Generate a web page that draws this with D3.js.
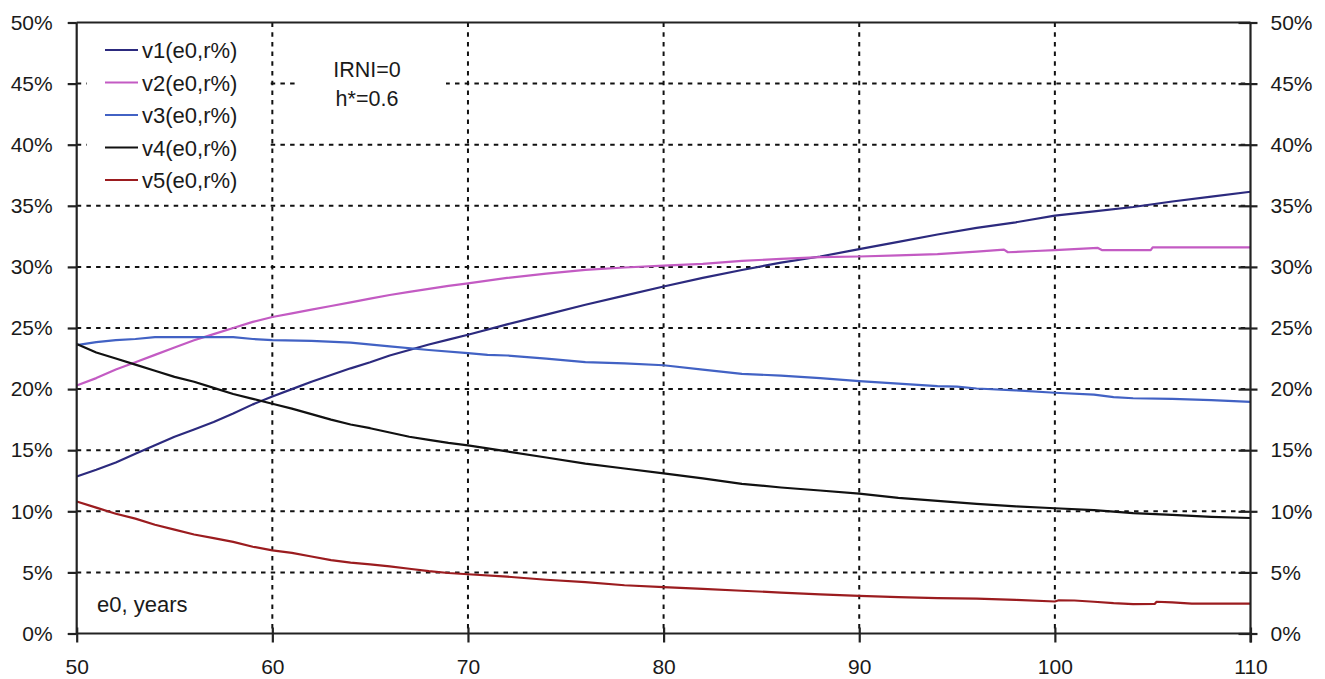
<!DOCTYPE html>
<html><head><meta charset="utf-8">
<script src="https://cdn.jsdelivr.net/npm/d3@7"></script>
<style>
body{margin:0;background:#fff;}
svg text{font-family:"Liberation Sans",Arial,sans-serif;fill:#1a1a1a;}
</style></head>
<body><svg id="c" width="1325" height="679"></svg>
<script>
const xTicks = [50,60,70,80,90,100,110];
const yTicks = [0,5,10,15,20,25,30,35,40,45,50];
const seriesNames = ["v1(e0,r%)","v2(e0,r%)","v3(e0,r%)","v4(e0,r%)","v5(e0,r%)"];
const seriesColors = ["#2c2a7e","#c35bc3","#4262c4","#111111","#9b1c1f"];
const annotation = ["IRNI=0","h*=0.6"];
const axisLabel = "e0, years";

const v1 = [[50,12.85],[51,13.4],[52,14.0],[53,14.7],[54,15.4],[55,16.1],[56,16.7],[57,17.3],[58,18.0],[59,18.75],[60,19.4],[61,20.0],[62,20.6],[63,21.15],[64,21.7],[65,22.2],[66,22.75],[67,23.2],[68,23.65],[69,24.05],[70,24.45],[72,25.3],[74,26.1],[76,26.9],[78,27.65],[80,28.4],[82,29.1],[84,29.75],[86,30.35],[88,30.85],[90,31.45],[92,32.05],[94,32.65],[96,33.2],[98,33.65],[100,34.2],[102,34.55],[104,34.9],[106,35.35],[108,35.75],[110,36.15]];
const v2 = [[50,20.3],[51,20.9],[52,21.6],[53,22.2],[54,22.8],[55,23.4],[56,24.0],[57,24.5],[58,25.0],[59,25.5],[60,25.9],[61,26.2],[62,26.5],[63,26.8],[64,27.1],[65,27.4],[66,27.7],[67,27.95],[68,28.2],[69,28.45],[70,28.65],[72,29.1],[74,29.45],[76,29.75],[78,29.95],[80,30.1],[82,30.25],[84,30.5],[86,30.65],[88,30.8],[90,30.85],[92,30.95],[94,31.05],[96,31.25],[97.4,31.42],[97.6,31.2],[99,31.3],[100,31.38],[102.2,31.55],[102.4,31.38],[104.9,31.38],[105.0,31.6],[110,31.6]];
const v3 = [[50,23.6],[51,23.85],[52,24.0],[53,24.1],[54,24.25],[56,24.25],[58,24.25],[59,24.1],[60,24.0],[62,23.95],[64,23.8],[66,23.5],[68,23.2],[70,22.95],[71,22.8],[72,22.75],[74,22.5],[76,22.2],[78,22.1],[80,21.95],[82,21.6],[84,21.25],[86,21.1],[88,20.9],[90,20.65],[92,20.45],[94,20.25],[95,20.2],[96,20.05],[98,19.9],[100,19.7],[102,19.55],[103,19.35],[104,19.25],[106,19.2],[108,19.1],[110,18.95]];
const v4 = [[50,23.7],[51,23.0],[52,22.5],[53,22.0],[54,21.5],[55,21.0],[56,20.6],[57,20.1],[58,19.6],[59,19.2],[60,18.8],[61,18.4],[62,17.95],[63,17.5],[64,17.1],[65,16.8],[66,16.45],[67,16.1],[68,15.85],[69,15.6],[70,15.4],[72,14.9],[74,14.4],[76,13.9],[78,13.5],[80,13.1],[82,12.7],[84,12.25],[86,11.95],[88,11.7],[90,11.45],[92,11.1],[94,10.85],[96,10.6],[98,10.4],[100,10.25],[102,10.1],[104,9.85],[106,9.7],[108,9.55],[110,9.45]];
const v5 = [[50,10.8],[51,10.3],[52,9.8],[53,9.4],[54,8.9],[55,8.5],[56,8.1],[57,7.8],[58,7.5],[59,7.1],[60,6.8],[61,6.6],[62,6.3],[63,6.0],[64,5.8],[65,5.65],[66,5.5],[67,5.3],[68,5.1],[69,4.95],[70,4.85],[72,4.65],[74,4.4],[76,4.2],[78,3.95],[80,3.8],[82,3.65],[84,3.5],[86,3.35],[88,3.2],[90,3.08],[92,2.98],[94,2.9],[96,2.85],[98,2.75],[100,2.62],[100.2,2.72],[101,2.7],[102,2.6],[103,2.48],[104,2.4],[105.1,2.42],[105.2,2.6],[106,2.55],[107,2.45],[110,2.45]];
const seriesData = [v1,v2,v3,v4,v5];

const svg = d3.select("#c");
const x = d3.scaleLinear().domain([50,110]).range([76.7,1250.5]);
const y = d3.scaleLinear().domain([0,50]).range([633.5,22.5]);
const FS = 21;

// gridlines
const grid = svg.append("g");
grid.selectAll("line.h").data(yTicks.filter(d=>d>0&&d<50)).join("line")
  .attr("x1",x(50)).attr("x2",x(110)).attr("y1",d=>y(d)).attr("y2",d=>y(d))
  .attr("stroke","#111").attr("stroke-width",2).attr("stroke-dasharray","4.5,5.2");
grid.selectAll("line.v").data(xTicks.filter(d=>d>50&&d<110)).join("line")
  .attr("x1",d=>x(d)).attr("x2",d=>x(d)).attr("y1",y(50)).attr("y2",y(0))
  .attr("stroke","#111").attr("stroke-width",2).attr("stroke-dasharray","4.5,5.2");

// white boxes (legend & annotation)
svg.append("rect").attr("x",87).attr("y",28).attr("width",180).attr("height",168).attr("fill","#fff");
svg.append("rect").attr("x",296).attr("y",50).attr("width",150).attr("height",66).attr("fill","#fff");

// series
const line = d3.line().x(d=>x(d[0])).y(d=>y(d[1]));
seriesData.forEach((s,i)=>{
  svg.append("path").datum(s).attr("d",line).attr("fill","none")
    .attr("stroke",seriesColors[i]).attr("stroke-width",2.2).attr("stroke-linejoin","round");
});

// axes
const fmt = d=>d+"%";
const gl = svg.append("g").attr("transform",`translate(${x(50)},0)`)
  .call(d3.axisLeft(y).tickValues(yTicks).tickSize(9).tickPadding(15).tickFormat(fmt));
const gr = svg.append("g").attr("transform",`translate(${x(110)},0)`)
  .call(d3.axisRight(y).tickValues(yTicks).tickSize(7).tickPadding(13).tickFormat(fmt));
gr.selectAll(".tick line").attr("x1",-12);
const gb = svg.append("g").attr("transform",`translate(0,${y(0)})`)
  .call(d3.axisBottom(x).tickValues(xTicks).tickSize(9).tickPadding(17));
gb.selectAll(".tick line").attr("y1",-6);
[gl,gr,gb].forEach(g=>{
  g.selectAll(".domain").attr("stroke","#222").attr("stroke-width",2.2);
  g.selectAll(".tick line").attr("stroke","#222").attr("stroke-width",2.2);
  g.selectAll(".tick text").attr("font-size",FS).attr("font-family","Liberation Sans, Arial, sans-serif").attr("fill","#1a1a1a");
});
gl.select(".domain").attr("d",`M0,${y(50)}V${y(0)}`);
gr.select(".domain").attr("d",`M0,${y(50)}V${y(0)+9}`);
gb.select(".domain").attr("d",`M${x(50)},0H${x(110)}`);
// top border
svg.append("line").attr("x1",x(50)).attr("x2",x(110)).attr("y1",y(50)).attr("y2",y(50))
  .attr("stroke","#222").attr("stroke-width",2.2);

// legend
const lg = svg.append("g");
seriesNames.forEach((n,i)=>{
  const ly = 50 + i*32.5;
  lg.append("line").attr("x1",105).attr("x2",138).attr("y1",ly).attr("y2",ly)
    .attr("stroke",seriesColors[i]).attr("stroke-width",2.2);
  lg.append("text").attr("x",142).attr("y",ly+8).attr("font-size",22).text(n);
});

// annotation
svg.append("text").attr("x",367).attr("y",77).attr("text-anchor","middle").attr("font-size",21.5).text(annotation[0]);
svg.append("text").attr("x",367).attr("y",106).attr("text-anchor","middle").attr("font-size",21.5).text(annotation[1]);
svg.append("text").attr("x",97).attr("y",612).attr("font-size",22).text(axisLabel);
</script></body></html>
